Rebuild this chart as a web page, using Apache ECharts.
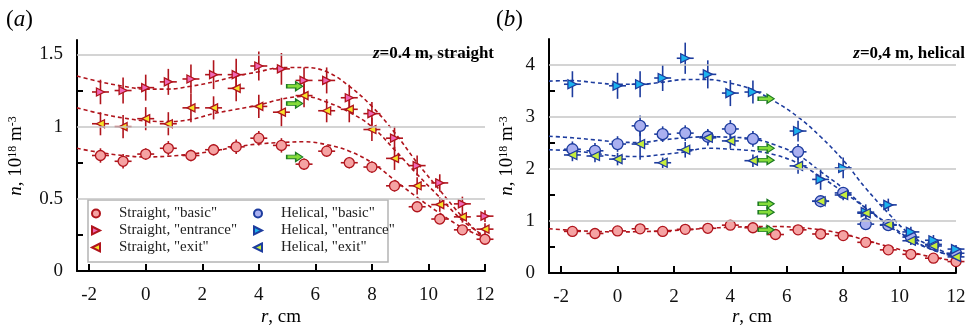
<!DOCTYPE html>
<html>
<head>
<meta charset="utf-8">
<script src="https://cdn.jsdelivr.net/npm/echarts@6/dist/echarts.min.js"></script>
<style>
  html, body { margin: 0; padding: 0; background: #fff; }
  #chart { width: 971px; height: 329px; }
</style>
</head>
<body>
<div id="chart"></div>
<script>
// radial positions of the probe, cm
var rVals = [-1.6, -0.8, 0, 0.8, 1.6, 2.4, 3.2, 4.0, 4.8, 5.6, 6.4, 7.2, 8.0, 8.8, 9.6, 10.4, 11.2, 12.0];

// (a) straight, 10^18 m^-3
var sBasic    = [0.80, 0.76, 0.81, 0.85, 0.80, 0.84, 0.86, 0.92, 0.87, 0.74, 0.83, 0.75, 0.72, 0.59, 0.445, 0.36, 0.285, 0.22];
var sEntrance = [1.24, 1.25, 1.27, 1.31, 1.33, 1.36, 1.36, 1.42, 1.40, 1.32, 1.32, 1.20, 1.09, 0.92, 0.73, 0.61, 0.465, 0.38];
var sExit     = [1.02, 1.00, 1.055, 1.02, 1.13, 1.13, 1.265, 1.14, 1.10, 1.215, 1.11, 1.12, 0.98, 0.78, 0.59, 0.46, 0.375, 0.29];
var sErrBasic    = [0.05, 0.05, 0.04, 0.05, 0.04, 0.04, 0.05, 0.05, 0.05, 0.04, 0.04, 0.04, 0.04, 0.04, 0.03, 0.03, 0.03, 0.03];
var sErrEntrance = [0.085, 0.09, 0.09, 0.09, 0.1, 0.1, 0.11, 0.1, 0.11, 0.09, 0.09, 0.09, 0.08, 0.08, 0.07, 0.06, 0.05, 0.04];
var sErrExit     = [0.08, 0.08, 0.08, 0.08, 0.1, 0.08, 0.09, 0.08, 0.1, 0.08, 0.08, 0.09, 0.08, 0.08, 0.06, 0.05, 0.04, 0.04];

// (b) helical
var hBasic    = [2.38, 2.35, 2.48, 2.83, 2.67, 2.69, 2.62, 2.77, 2.58, null, 2.33, 1.38, 1.54, 0.94, 0.92, 0.69, 0.55, 0.38];
var hEntrance = [3.63, null, 3.60, 3.63, 3.75, 4.13, 3.82, 3.46, 3.48, null, 2.73, 1.80, 2.02, 1.17, 1.31, 0.79, 0.63, 0.46];
var hExit     = [2.27, 2.25, 2.19, 2.48, 2.12, 2.37, 2.60, 2.54, 2.16, null, 2.06, 1.38, 1.50, 1.15, 0.93, 0.62, 0.52, 0.31];
var hErrBasic    = [0.15, 0.15, 0.15, 0.2, 0.15, 0.15, 0.15, 0.17, 0.15, null, 0.15, 0.1, 0.1, 0.1, 0.1, 0.08, 0.08, 0.06];
var hErrEntrance = [0.25, null, 0.25, 0.25, 0.25, 0.3, 0.27, 0.25, 0.22, null, 0.2, 0.2, 0.2, 0.15, 0.12, 0.1, 0.1, 0.08];
var hErrExit     = [0.12, 0.12, 0.12, 0.3, 0.1, 0.15, 0.15, 0.15, 0.12, null, 0.15, 0.1, 0.1, 0.1, 0.08, 0.08, 0.08, 0.06];
var rErr = 0.3;

// dashed fit curves
var fitR = [-2.43, -1.6, -0.8, 0, 0.8, 1.6, 2.4, 3.2, 4.0, 4.8, 5.6, 6.4, 7.2, 8.0, 8.8, 9.6, 10.4, 11.2, 12];
var fitSBasic    = [0.85, 0.82, 0.80, 0.79, 0.795, 0.81, 0.83, 0.86, 0.88, 0.89, 0.895, 0.875, 0.83, 0.75, 0.63, 0.51, 0.40, 0.30, 0.23];
var fitSEntrance = [1.35, 1.31, 1.28, 1.26, 1.26, 1.28, 1.31, 1.35, 1.38, 1.41, 1.41, 1.38, 1.28, 1.14, 0.96, 0.75, 0.56, 0.375, 0.22];
var fitSExit     = [1.13, 1.09, 1.06, 1.04, 1.035, 1.05, 1.09, 1.12, 1.15, 1.19, 1.21, 1.17, 1.10, 1.00, 0.84, 0.67, 0.51, 0.35, 0.24];
var fitHEntrance = [3.69, 3.70, 3.66, 3.63, 3.63, 3.67, 3.72, 3.72, 3.65, 3.52, 3.29, 3.00, 2.62, 2.17, 1.63, 1.15, 0.73, 0.50, 0.31];
var fitHBasic    = [2.63, 2.60, 2.56, 2.52, 2.51, 2.56, 2.60, 2.62, 2.61, 2.58, 2.46, 2.27, 1.95, 1.63, 1.25, 0.92, 0.63, 0.44, 0.31];
var fitHExit     = [2.37, 2.35, 2.30, 2.25, 2.24, 2.28, 2.33, 2.40, 2.38, 2.35, 2.27, 2.11, 1.85, 1.56, 1.25, 0.94, 0.65, 0.44, 0.31];

// green arrows
var arrowR = 5.27;
var arrowsA = [1.28, 1.16, 0.79];
var arrowsB = [3.35, 2.40, 2.17, 1.33, 1.17, 0.83];

// ticks
var xTicks = [-2, 0, 2, 4, 6, 8, 10, 12];
var yLabelsA = [0, 0.5, 1, 1.5];
var yMinorA = [0.25, 0.75, 1.25];
var yLabelsB = [0, 1, 2, 3, 4];
var yMinorB = [0.5, 1.5, 2.5, 3.5];

var SERIF = 'Liberation Serif';
var RED = '#b0141c', BLUE = '#1d3c9e';
var TRI_R = 'path://M0,0 L10,5 L0,10 Z';
var TRI_L = 'path://M10,0 L0,5 L10,10 Z';
var ARROW = 'path://M0,3 L9,3 L9,0 L16,5 L9,10 L9,7 L0,7 Z';

function pts(xs, ys) {
    var out = [];
    for (var i = 0; i < xs.length; i++) {
        if (ys[i] != null) out.push([xs[i], ys[i]]);
    }
    return out;
}

function errPts(ys, errs) {
    var out = [];
    for (var i = 0; i < rVals.length; i++) {
        if (ys[i] != null) out.push([rVals[i], ys[i], rErr, errs[i]]);
    }
    return out;
}

// cross-shaped error bars
function errSeries(gi, ys, errs, color) {
    return {
        type: 'custom', xAxisIndex: gi, yAxisIndex: gi, z: 2, silent: true,
        data: errPts(ys, errs),
        renderItem: function (params, api) {
            var x = api.value(0), y = api.value(1), ex = api.value(2), ey = api.value(3);
            var t = api.coord([x, y + ey]), b = api.coord([x, y - ey]);
            var l = api.coord([x - ex, y]), r = api.coord([x + ex, y]);
            var st = { stroke: color, lineWidth: 1.6 };
            return {
                type: 'group',
                children: [
                    { type: 'line', shape: { x1: t[0], y1: t[1], x2: b[0], y2: b[1] }, style: st },
                    { type: 'line', shape: { x1: l[0], y1: l[1], x2: r[0], y2: r[1] }, style: st }
                ]
            };
        }
    };
}

function markSeries(gi, name, ys, symbol, size, fill, border) {
    return {
        type: 'scatter', name: name, xAxisIndex: gi, yAxisIndex: gi, z: 3,
        symbol: symbol, symbolSize: size,
        data: pts(rVals, ys),
        itemStyle: { color: fill, borderColor: border, borderWidth: 1.3, opacity: 1 }
    };
}

function fitSeries(gi, ys, color) {
    return {
        type: 'line', xAxisIndex: gi, yAxisIndex: gi, z: 1, silent: true,
        smooth: 0.4, symbol: 'none',
        data: pts(fitR, ys),
        lineStyle: { color: color, width: 1.6, type: [4, 3] }
    };
}

function gridSeries(gi, vals) {
    var d = [];
    for (var i = 1; i < vals.length; i++) d.push({ yAxis: vals[i] });
    return {
        type: 'line', xAxisIndex: gi, yAxisIndex: gi, z: 0, silent: true, data: [],
        markLine: {
            silent: true, symbol: 'none', label: { show: false },
            lineStyle: { color: '#c6c6c6', width: 1.6, type: 'solid' },
            data: d
        }
    };
}

function arrowSeries(gi, ys) {
    var d = [];
    for (var i = 0; i < ys.length; i++) d.push([arrowR, ys[i]]);
    return {
        type: 'scatter', xAxisIndex: gi, yAxisIndex: gi, z: 4, silent: true,
        symbol: ARROW, symbolSize: [16, 9], data: d,
        itemStyle: { color: '#84dc3a', borderColor: '#1c7a22', borderWidth: 1.2, opacity: 1 }
    };
}

function xAx(gi) {
    return {
        type: 'value', gridIndex: gi, min: -2.43, max: 12,
        axisLine: { show: true, onZero: false, lineStyle: { color: '#000', width: 2 } },
        axisTick: { show: true, inside: true, length: 7, customValues: xTicks, lineStyle: { color: '#000', width: 2 } },
        axisLabel: { customValues: xTicks, margin: 15, fontFamily: SERIF, fontSize: 19, color: '#111' },
        splitLine: { show: false }
    };
}

function yAx(gi, max, labels, minor) {
    return {
        type: 'value', gridIndex: gi, min: 0, max: max,
        axisLine: { show: true, onZero: false, lineStyle: { color: '#000', width: 2 } },
        axisTick: { show: true, inside: true, length: 6, customValues: minor, lineStyle: { color: '#000', width: 2 } },
        axisLabel: { customValues: labels, margin: 14, fontFamily: SERIF, fontSize: 19, color: '#111' },
        splitLine: { show: false }
    };
}

var nameRich = {
    i: { fontFamily: SERIF, fontSize: 19, fontStyle: 'italic', color: '#111' },
    n: { fontFamily: SERIF, fontSize: 19, color: '#111' },
    s: { fontFamily: SERIF, fontSize: 12, color: '#111', verticalAlign: 'top' }
};
var titleRich = {
    bi: { fontFamily: SERIF, fontSize: 17, fontWeight: 'bold', fontStyle: 'italic', color: '#111' },
    b: { fontFamily: SERIF, fontSize: 17, fontWeight: 'bold', color: '#111' },
    p: { fontFamily: SERIF, fontSize: 23, color: '#111' },
    pi: { fontFamily: SERIF, fontSize: 23, fontStyle: 'italic', color: '#111' }
};

function txt(x, y, text, rich, align, rot) {
    return {
        type: 'text', x: x, y: y, rotation: rot || 0, z: 10,
        style: { text: text, rich: rich, align: align, verticalAlign: 'middle' }
    };
}

var legendText = { fontFamily: SERIF, fontSize: 15, color: '#222', lineHeight: 15, padding: [0, 0, 0, 14] };

var chart = echarts.init(document.getElementById('chart'));
chart.setOption({
    animation: false,
    backgroundColor: '#fff',
    grid: [
        { left: 77, right: 486, top: 40, bottom: 58 },
        { left: 549, right: 15, top: 39, bottom: 56 }
    ],
    xAxis: [xAx(0), xAx(1)],
    yAxis: [yAx(0, 1.6, yLabelsA, yMinorA), yAx(1, 4.5, yLabelsB, yMinorB)],
    legend: [
        {
            left: 91, top: 206, padding: 0, orient: 'vertical', itemGap: 2, itemWidth: 8, itemHeight: 8,
            selectedMode: false, textStyle: legendText, z: 8,
            data: ['Straight, "basic"', 'Straight, "entrance"', 'Straight, "exit"']
        },
        {
            left: 253, top: 206, padding: 0, orient: 'vertical', itemGap: 2, itemWidth: 8, itemHeight: 8,
            selectedMode: false, textStyle: legendText, z: 8,
            data: ['Helical, "basic"', 'Helical, "entrance"', 'Helical, "exit"']
        }
    ],
    graphic: [
        { type: 'rect', z: 1, shape: { x: 88, y: 200, width: 300, height: 62 },
          style: { fill: '#fff', stroke: '#b4b4b4', lineWidth: 1.5 } },
        txt(6, 20, '{p|(}{pi|a}{p|)}', titleRich, 'left'),
        txt(496, 20, '{p|(}{pi|b}{p|)}', titleRich, 'left'),
        txt(494, 54, '{bi|z}{b|=0.4 m, straight}', titleRich, 'right'),
        txt(965, 54, '{bi|z}{b|=0,4 m, helical}', titleRich, 'right'),
        txt(16, 156, '{i|n}{n|, 10}{s|18}{n| m}{s|-3}', nameRich, 'center', Math.PI / 2),
        txt(507, 156, '{i|n}{n|, 10}{s|18}{n| m}{s|-3}', nameRich, 'center', Math.PI / 2),
        txt(281, 317, '{i|r}{n|, cm}', nameRich, 'center'),
        txt(752, 317, '{i|r}{n|, cm}', nameRich, 'center')
    ],
    series: [
        // (a)
        gridSeries(0, yLabelsA),
        fitSeries(0, fitSBasic, RED),
        fitSeries(0, fitSEntrance, RED),
        fitSeries(0, fitSExit, RED),
        errSeries(0, sBasic, sErrBasic, RED),
        errSeries(0, sEntrance, sErrEntrance, RED),
        errSeries(0, sExit, sErrExit, RED),
        markSeries(0, 'Straight, "basic"', sBasic, 'circle', 10, '#f5a3a3', RED),
        markSeries(0, 'Straight, "entrance"', sEntrance, TRI_R, 8, '#f068b6', RED),
        markSeries(0, 'Straight, "exit"', sExit, TRI_L, 8, '#f6e42a', RED),
        arrowSeries(0, arrowsA),
        // (b)
        gridSeries(1, yLabelsB),
        fitSeries(1, fitSBasic, RED),
        fitSeries(1, fitHEntrance, BLUE),
        fitSeries(1, fitHBasic, BLUE),
        fitSeries(1, fitHExit, BLUE),
        errSeries(1, sBasic, sErrBasic, RED),
        errSeries(1, hBasic, hErrBasic, BLUE),
        errSeries(1, hEntrance, hErrEntrance, BLUE),
        errSeries(1, hExit, hErrExit, BLUE),
        markSeries(1, 'Straight, "basic"', sBasic, 'circle', 10, '#f5a3a3', RED),
        markSeries(1, 'Helical, "basic"', hBasic, 'circle', 11, '#aab0f0', BLUE),
        markSeries(1, 'Helical, "entrance"', hEntrance, TRI_R, 9, '#1cb2ee', BLUE),
        markSeries(1, 'Helical, "exit"', hExit, TRI_L, 9, '#c6ee3c', BLUE),
        arrowSeries(1, arrowsB)
    ]
});
</script>
</body>
</html>
